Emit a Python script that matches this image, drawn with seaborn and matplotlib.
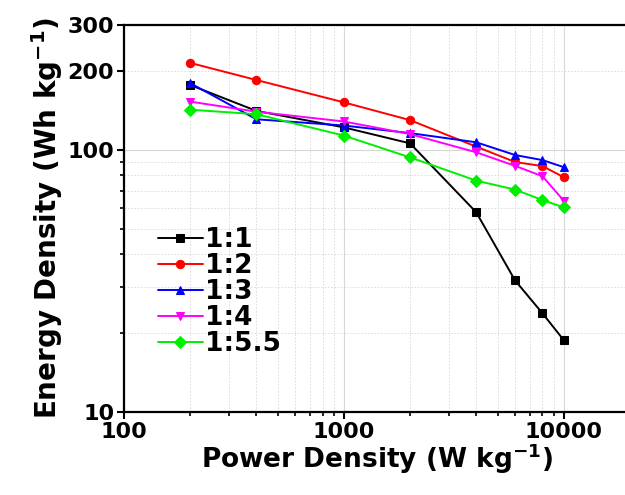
import pandas as pd
import seaborn as sns
import matplotlib.pyplot as plt
from matplotlib.ticker import FixedLocator, NullFormatter, LogLocator, FixedFormatter

power = [200, 400, 1000, 2000, 4000, 6000, 8000, 10000]
ratios = ["1:1", "1:2", "1:3", "1:4", "1:5.5"]
energy_11 = [177, 141, 122, 106, 57.8, 31.8, 23.8, 18.8]
energy_12 = [215, 185, 152, 130, 103, 90, 86.8, 78.7]
energy_13 = [180, 131, 124, 116, 107, 95.7, 91.5, 86]
energy_14 = [153, 140, 128.5, 115, 98, 87, 79.4, 64]
energy_155 = [142.5, 137, 113.5, 93.7, 76.4, 70.6, 64.4, 60.4]

colors = {"1:1": "black", "1:2": "#ff0000", "1:3": "#0000ff", "1:4": "#ff00ff", "1:5.5": "#00ee00"}
markers = {"1:1": "s", "1:2": "o", "1:3": "^", "1:4": "v", "1:5.5": "D"}

df = pd.DataFrame({
    "Power": power * 5,
    "Energy": energy_11 + energy_12 + energy_13 + energy_14 + energy_155,
    "Ratio": [r for r in ratios for _ in power],
})

sns.set_style("white")
plt.rcParams["font.family"] = ["DejaVu Sans"]
plt.rcParams["font.weight"] = "bold"
plt.rcParams["text.color"] = "black"
plt.rcParams["axes.labelcolor"] = "black"
plt.rcParams["xtick.color"] = "black"
plt.rcParams["ytick.color"] = "black"
plt.rcParams["mathtext.fontset"] = "custom"
plt.rcParams["mathtext.bf"] = "DejaVu Sans:bold"

fig = plt.figure(figsize=(6.25, 4.95), dpi=100)
ax = fig.add_axes([124 / 625, 83 / 495, 506 / 625, 387 / 495])

sns.lineplot(data=df, x="Power", y="Energy", hue="Ratio", style="Ratio",
             palette=colors, markers=markers, dashes=False, markersize=6,
             markeredgecolor=None, linewidth=1.4, ax=ax)
for line in ax.lines:
    line.set_markeredgecolor(line.get_color())

ax.set_xscale("log")
ax.set_yscale("log")
ax.set_xlim(100, 20000)
ax.set_ylim(10, 300)

ax.yaxis.set_major_locator(FixedLocator([10, 100, 200, 300]))
ax.yaxis.set_major_formatter(FixedFormatter(["10", "100", "200", "300"]))
ax.yaxis.set_minor_locator(FixedLocator([20, 30, 40, 50, 60, 70, 80, 90]))
ax.yaxis.set_minor_formatter(NullFormatter())
ax.xaxis.set_major_locator(FixedLocator([100, 1000, 10000]))
ax.xaxis.set_major_formatter(FixedFormatter(["100", "1000", "10000"]))
ax.xaxis.set_minor_locator(LogLocator(base=10, subs=range(2, 10)))
ax.xaxis.set_minor_formatter(NullFormatter())

ax.grid(True, which="major", color="#d8d8d8", linewidth=0.8)
ax.grid(True, which="minor", color="#d8d8d8", linestyle=(0, (2, 2)), linewidth=0.6)
for gl, val in zip(ax.yaxis.get_gridlines(), [10, 100, 200, 300]):
    if val in (200, 300):
        gl.set_linestyle((0, (2, 2)))
        gl.set_linewidth(0.6)

ax.tick_params(which="major", direction="out", length=5, width=1.5, labelsize=16,
               bottom=True, left=True, pad=2)
ax.tick_params(which="minor", direction="out", length=3, width=1.2, bottom=True, left=True)
for s in ax.spines.values():
    s.set_linewidth(1.6)
    s.set_color("black")
for lbl in ax.get_xticklabels() + ax.get_yticklabels():
    lbl.set_fontweight("bold")

ax.set_xlabel(r"Power Density (W kg$^{\mathbf{-1}}$)", fontsize=19, fontweight="bold", labelpad=0)
ax.set_ylabel(r"Energy Density (Wh kg$^{\mathbf{-1}}$)", fontsize=20, fontweight="bold", labelpad=2)

leg = ax.legend(loc="upper left", bbox_to_anchor=(0.03, 0.525), frameon=False,
                prop={"size": 19, "weight": "bold"}, handlelength=1.7,
                handletextpad=0.1, labelspacing=0.0, borderaxespad=0.3)

fig.savefig("out.png", dpi=100)
